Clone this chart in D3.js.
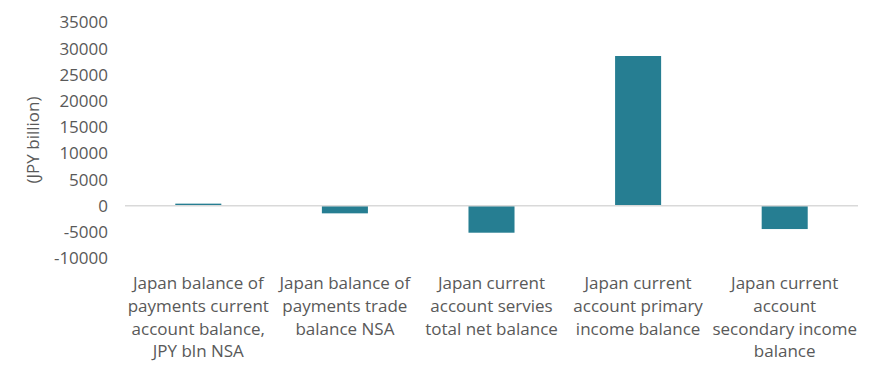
<!DOCTYPE html>
<html><head><meta charset="utf-8">
<script src="https://cdn.jsdelivr.net/npm/d3@7"></script>
<style>body{margin:0;background:#fff;} text{font-family:"Open Sans", sans-serif;}</style>
</head><body><svg id="c" width="887" height="381"></svg>
<script>
const categories = [
  ["Japan balance of","payments current","account balance,","JPY bln NSA"],
  ["Japan balance of","payments trade","balance NSA"],
  ["Japan current","account servies","total net balance"],
  ["Japan current","account primary","income balance"],
  ["Japan current","account","secondary income","balance"]
];
const values = [400, -1450, -5150, 28600, -4450];
const yTicks = [-10000,-5000,0,5000,10000,15000,20000,25000,30000,35000];
const yLabel = "(JPY billion)";

const svg = d3.select("#c");
const m = {l:125, r:29};
const W = 887;
const x = d3.scaleBand().domain(d3.range(categories.length)).range([m.l, W-m.r]).padding(0);
const y = d3.scaleLinear().domain([-10000,35000]).range([258.1, 22.5]);
const txt = "#595959";
const fs = "17px";

const bw = x.bandwidth()*0.314;
svg.selectAll("rect.bar").data(values).enter().append("rect")
  .attr("class","bar")
  .attr("x",(d,i)=>x(i)+x.bandwidth()/2-bw/2)
  .attr("width",bw)
  .attr("y",d=>y(Math.max(0,d)))
  .attr("height",d=>Math.abs(y(d)-y(0)))
  .attr("fill","#267e92");

svg.append("line").attr("x1",m.l).attr("x2",W-m.r).attr("y1",y(0)).attr("y2",y(0))
  .attr("stroke","#d9d9d9").attr("stroke-width",1.5);

const yAxis = d3.axisLeft(y).tickValues(yTicks).tickSize(0).tickPadding(0).tickFormat(d=>String(d));
const ga = svg.append("g").attr("transform","translate(108,0)").call(yAxis);
ga.select(".domain").remove();
ga.selectAll("text").attr("fill",txt).style("font-size",fs).style("font-family","'Open Sans', sans-serif");

svg.append("text").attr("transform","translate(39,140) rotate(-90)").attr("text-anchor","middle")
  .attr("fill",txt).style("font-size",fs).text(yLabel);

categories.forEach((lines,i)=>{
  const cx = x(i)+x.bandwidth()/2;
  const t = svg.append("text").attr("text-anchor","middle").attr("fill",txt).style("font-size",fs).attr("x",cx);
  lines.forEach((ln,j)=>t.append("tspan").attr("x",cx).attr("y",289+j*22.8).text(ln));
});
</script></body></html>
